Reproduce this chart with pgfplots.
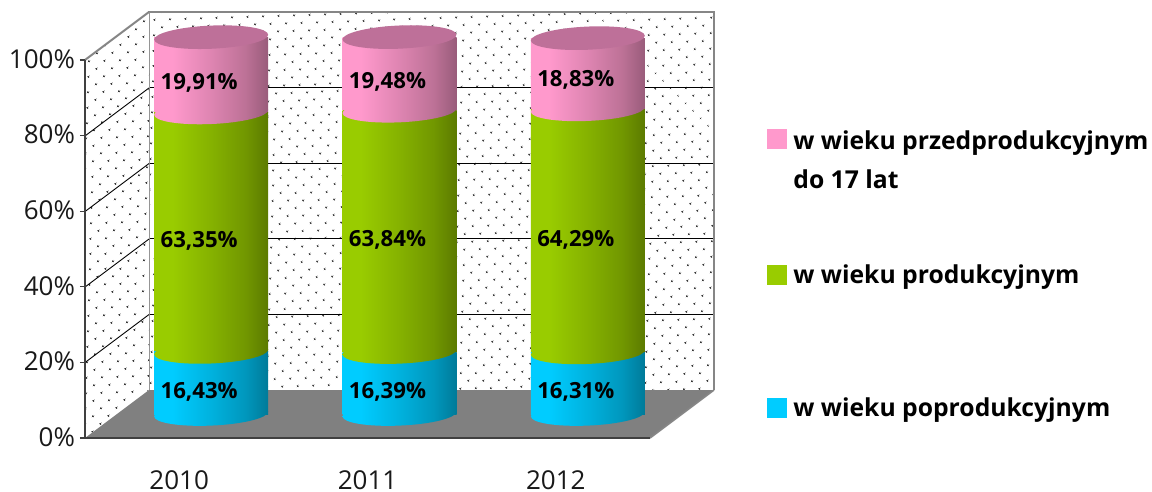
\documentclass[border=0pt]{standalone}
\usepackage{fontspec}
\setmainfont{Open Sans}
\usepackage{pgfplots}
\usepackage{pgfplotstable}
\pgfplotsset{compat=1.18}
\usetikzlibrary{patterns.meta}
\definecolor{wallgray}{HTML}{868686}
\definecolor{floorgray}{HTML}{808080}
\definecolor{capc}{HTML}{BE7099}
\definecolor{leg1}{HTML}{FF99CC}
\definecolor{leg2}{HTML}{99CC00}
\definecolor{leg3}{HTML}{00CCFF}
\pgfdeclarehorizontalshading{cylP}{100bp}{rgb(0bp)=(1,.6,.8); rgb(33bp)=(1,.6,.8); rgb(50bp)=(.87,.52,.695); rgb(65bp)=(.74,.445,.59); rgb(75bp)=(.6,.36,.48); rgb(100bp)=(.6,.36,.48)}
\pgfdeclarehorizontalshading{cylG}{100bp}{rgb(0bp)=(.6,.8,0); rgb(33bp)=(.6,.8,0); rgb(50bp)=(.522,.696,0); rgb(65bp)=(.444,.592,0); rgb(75bp)=(.36,.48,0); rgb(100bp)=(.36,.48,0)}
\pgfdeclarehorizontalshading{cylB}{100bp}{rgb(0bp)=(0,.8,1); rgb(33bp)=(0,.8,1); rgb(50bp)=(0,.696,.87); rgb(65bp)=(0,.592,.74); rgb(75bp)=(0,.48,.6); rgb(100bp)=(0,.48,.6)}
\newcommand\capellipse{\pgfpathellipse{\pgfpointorigin}{\pgfqpoint{28.5pt}{1.2pt}}{\pgfqpoint{0pt}{5.8pt}}}
\pgfdeclareplotmark{capP}{\capellipse\pgfshadepath{cylP}{0}\pgfusepath{discard}}
\pgfdeclareplotmark{capG}{\capellipse\pgfshadepath{cylG}{0}\pgfusepath{discard}}
\pgfdeclareplotmark{capB}{\capellipse\pgfshadepath{cylB}{0}\pgfusepath{discard}}
\pgfdeclareplotmark{capT}{\capellipse\pgfsetfillcolor{capc}\pgfusepath{fill}}
% one small table for each year: the three shares (per cent) of that year
\pgfplotstableread{
x blue green pink
0 16.43 63.35 19.91
}\yeara
\pgfplotstableread{
x blue green pink
1 16.39 63.84 19.48
}\yearb
\pgfplotstableread{
x blue green pink
2 16.31 64.29 18.83
}\yearc
\pgfplotstableread{
x y
0 0
1 0
2 0
}\basecaps
\pgfplotsset{common/.style={scale only axis,width=282.5pt,height=189pt,xmin=-0.5,xmax=2.5,ymin=0,ymax=100,anchor=south west,clip=false},
  cyl/.style={common,at={(58.5pt,-207pt)},hide axis,ybar stacked,bar width=57pt}}
\newcommand\cylinder[1]{%
\begin{axis}[cyl]
\addplot[draw=none,shade,shading=cylB,mark=capG] table[x=x,y=blue]{#1};
\addplot[draw=none,shade,shading=cylG,mark=capP] table[x=x,y=green]{#1};
\addplot[draw=none,shade,shading=cylP,mark=capT] table[x=x,y=pink]{#1};
\end{axis}}
\tikzset{dotwall/.style={pattern={Dots[distance=5.4pt,angle=45,radius=.6pt]},pattern color=black!80},
  px/.style={x=0.5pt,y=-0.5pt}}
\begin{document}
\begin{tikzpicture}
\path[px,use as bounding box] (0,0) rectangle (1152,492);
% back wall
\fill[px,white] (149,12) rectangle (714,390);
\begin{axis}[common,at={(74.5pt,-195pt)},axis background/.style={dotwall},
  axis line style={draw=none},ytick={20,40,60,80},xtick=\empty,yticklabels={},
  ymajorgrids,major grid style={black,line width=.45pt},major tick length=0pt]
\end{axis}
\begin{scope}[px]
\draw[wallgray,line width=1pt] (149,390)--(149,12)--(714,12)--(714,390);
% left wall
\fill[white] (85,438)--(85,60)--(149,12)--(149,390)--cycle;
\fill[dotwall] (85,438)--(85,60)--(149,12)--(149,390)--cycle;
\foreach \yy in {88,163.5,239,314.5}
  \draw[black,line width=.45pt] (85,\yy+48)--(149,\yy);
\draw[wallgray,line width=1pt] (85,60)--(149,12);
% floor
\fill[floorgray] (85,438)--(149,390)--(714,390)--(650,438)--cycle;
\draw[wallgray,line width=.8pt] (650,438)--(714,390);
\end{scope}
% front axis with the scale
\begin{axis}[common,at={(42.5pt,-219pt)},
  axis x line*=bottom,axis y line*=left,axis line style={-,draw=black!75,line width=.8pt},
  ytick={0,20,40,60,80,100},yticklabel={\pgfmathprintnumber{\tick}\%},
  xtick={0,1,2},xticklabels={2010,2011,2012},
  extra x ticks={-0.5,0.5,1.5,2.5},extra x tick labels={},
  extra x tick style={major tick length=4pt,tick style={black!75,line width=.6pt}},
  /pgf/number format/assume math mode=true,
  tick align=outside,
  ticklabel style={font=\fontsize{13}{13}\selectfont,text=black!90},
  x tick style={draw=none},
  y tick style={black!75,line width=.6pt},
  major tick length=2.5pt,
  xticklabel style={inner sep=0pt,yshift=-13.6pt},
  yticklabel style={xshift=1pt,yshift=.5pt}]
\end{axis}
% base of the cylinders
\begin{axis}[common,at={(58.5pt,-207pt)},hide axis]
\addplot[only marks,mark=capB] table[x=x,y=y]{\basecaps};
\end{axis}
% cylinders
\cylinder{\yeara}
\cylinder{\yearb}
\cylinder{\yearc}
% data labels
\begin{axis}[common,at={(58.5pt,-207pt)},hide axis]
\tikzset{dl/.style={font=\fontsize{11.1}{11}\selectfont\bfseries,text=black,anchor=center,xshift=-6pt,yshift=-4.3pt,inner sep=0pt}}
\node[dl] at (axis cs:0,8.2) {16,43\%};
\node[dl] at (axis cs:1,8.2) {16,39\%};
\node[dl] at (axis cs:2,8.15) {16,31\%};
\node[dl] at (axis cs:0,48.1) {63,35\%};
\node[dl] at (axis cs:1,48.3) {63,84\%};
\node[dl] at (axis cs:2,48.45) {64,29\%};
\node[dl] at (axis cs:0,90) {19,91\%};
\node[dl] at (axis cs:1,90.25) {19,48\%};
\node[dl] at (axis cs:2,90.6) {18,83\%};
\end{axis}
% legend
\begin{scope}[px]
\fill[leg1] (767,129) rectangle (787,149);
\fill[leg2] (767,265) rectangle (787,285);
\fill[leg3] (767,398) rectangle (787,418);
\tikzset{lg/.style={font=\fontsize{12.35}{12}\selectfont\bfseries,anchor=base west,inner sep=0pt,text=black}}
\node[lg] at (793,149) {w wieku przedprodukcyjnym};
\node[lg] at (793,189) {do 17 lat};
\node[lg] at (793,283) {w wieku produkcyjnym};
\node[lg] at (793,416) {w wieku poprodukcyjnym};
\end{scope}
\end{tikzpicture}
\end{document}
